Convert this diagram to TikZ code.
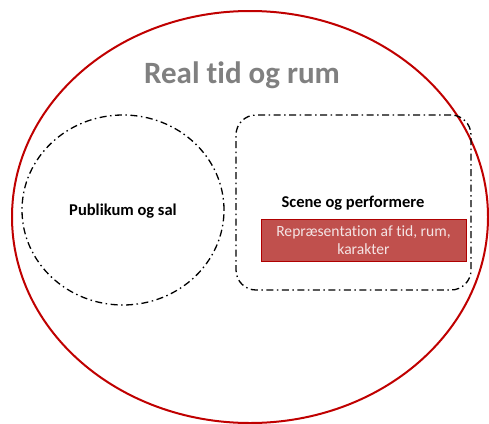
\documentclass[tikz,border=0pt]{standalone}
\usepackage{fontspec}
\setmainfont{Carlito}[Ligatures=NoCommon]
\usetikzlibrary{shapes.geometric}
\definecolor{darkred}{HTML}{C00000}
\definecolor{boxfill}{HTML}{C0504D}
\definecolor{boxline}{HTML}{B00000}
\definecolor{titlegray}{HTML}{808080}
\definecolor{lightpink}{HTML}{F4E4E4}
\tikzset{
  dashdot line/.style={draw=black, line width=1.3pt, dash pattern=on 7pt off 3.5pt on 1.5pt off 3.5pt},
  labeltext/.style={font=\bfseries\fontsize{16.5}{19}\selectfont, text=black},
}
\begin{document}
\begin{tikzpicture}[x=1pt,y=-1pt]
\useasboundingbox (0,0) rectangle (489,423);
\fill[white] (0,0) rectangle (489,423);
% outer ellipse
\node[ellipse, draw=darkred, line width=2pt, minimum width=476pt, minimum height=412pt, inner sep=0pt] (outer) at (250,217) {};
\node[font=\bfseries\fontsize{31}{36}\selectfont, text=titlegray] (title) at (242,75) {Real tid og rum};
% audience circle
\node[ellipse, dashdot line, minimum width=202pt, minimum height=190pt, inner sep=0pt] (publikum) at (123,210) {};
\node[labeltext] (publabel) at (123,211) {Publikum og sal};
% stage rounded rectangle
\node[draw, dashdot line, rounded corners=20pt, minimum width=235pt, minimum height=175pt, inner sep=0pt] (scene) at (353.5,202.5) {};
\node[labeltext] (scenelabel) at (353,203) {Scene og performere};
\node[draw=boxline, fill=boxfill, line width=1pt, minimum width=205pt, minimum height=42pt, inner sep=0pt, text=lightpink, align=center, font=\fontsize{15.6}{18}\selectfont] (repr) at (363.5,240) {Repræsentation af tid, rum,\\karakter};
\end{tikzpicture}
\end{document}
